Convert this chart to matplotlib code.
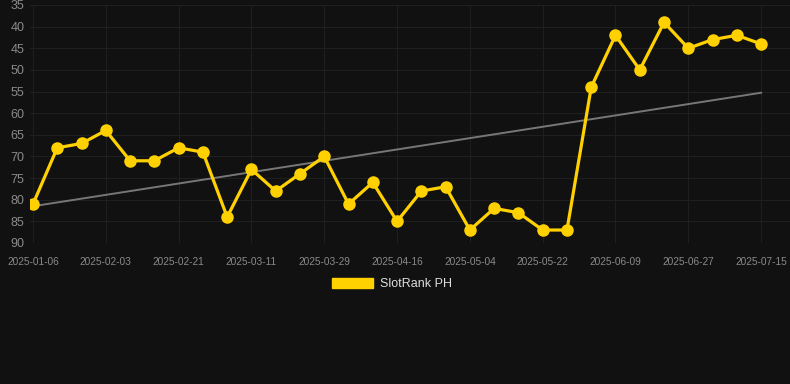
import numpy as np
import matplotlib
matplotlib.use("Agg")
import matplotlib.pyplot as plt
from matplotlib.patches import Patch

# weekly-ish rank snapshots (lower = better, axis reversed)
dates = ["2025-01-06", "2025-01-18", "2025-01-28", "2025-02-03", "2025-02-09", "2025-02-15",
         "2025-02-21", "2025-02-27", "2025-03-05", "2025-03-11", "2025-03-17", "2025-03-23",
         "2025-03-29", "2025-04-04", "2025-04-10", "2025-04-16", "2025-04-22", "2025-04-28",
         "2025-05-04", "2025-05-10", "2025-05-16", "2025-05-22", "2025-05-28", "2025-06-03",
         "2025-06-09", "2025-06-15", "2025-06-21", "2025-06-27", "2025-07-03", "2025-07-09",
         "2025-07-15"]
ranks = [81, 68, 67, 64, 71, 71, 68, 69, 84, 73, 78, 74, 70, 81, 76, 85,
         78, 77, 87, 82, 83, 87, 87, 54, 42, 50, 39, 45, 43, 42, 44]
yticks = [35, 40, 45, 50, 55, 60, 65, 70, 75, 80, 85, 90]
series_name = "SlotRank PH"

bg = "#111111"
gold = "#FFD100"

fig = plt.figure(figsize=(7.9, 3.84), dpi=100, facecolor=bg)
ax = fig.add_axes([30 / 790, 1 - 243 / 384, 760 / 790, 238 / 384])
ax.set_facecolor(bg)

x = np.arange(len(ranks))
ax.plot(x, ranks, color=gold, lw=2.3, marker="o", ms=8, zorder=3)

# linear trend
k, b = np.polyfit(x, ranks, 1)
ax.plot(x, k * x + b, color="#777777", lw=1.4, zorder=2)

ax.set_ylim(90, 35)
ax.set_yticks(yticks)
ax.set_xlim(-0.124, 31.19)
ax.set_xticks(x[::3])
ax.set_xticklabels([dates[i] for i in x[::3]])

ax.grid(True, color="#1f1f1f", lw=0.8)
ax.set_axisbelow(True)
for s in ax.spines.values():
    s.set_visible(False)
ax.tick_params(axis="y", length=0, pad=4, labelsize=9, labelcolor="#8a8a8a")
ax.tick_params(axis="x", length=0, pad=10, labelsize=7.3, labelcolor="#8a8a8a")
for lab in ax.get_xticklabels() + ax.get_yticklabels():
    lab.set_family("Liberation Sans")

leg = fig.legend(handles=[Patch(facecolor=gold, edgecolor=gold)], labels=[series_name],
                 loc="center", bbox_to_anchor=(392 / 790, 1 - 284 / 384),
                 frameon=False, handlelength=3.3, handleheight=0.9, handletextpad=0.6,
                 prop={"family": "Liberation Sans", "size": 9})
for t in leg.get_texts():
    t.set_color("#dddddd")

fig.savefig("out.png", dpi=100, facecolor=bg)
